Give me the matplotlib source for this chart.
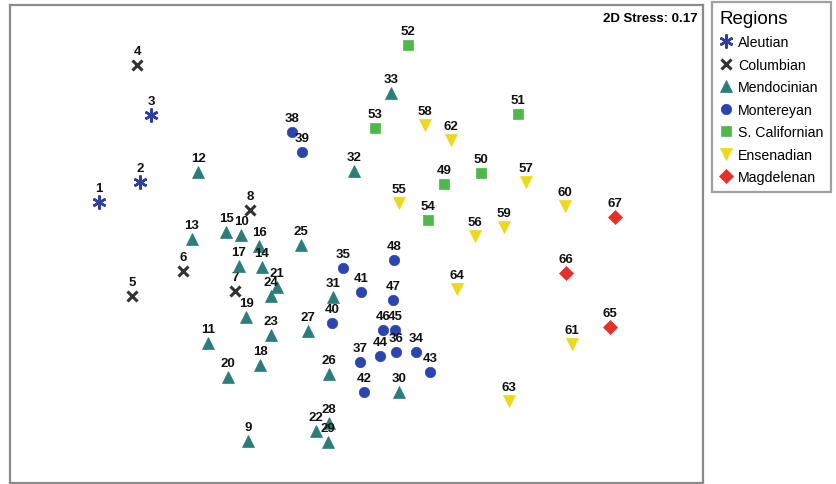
import numpy as np
import matplotlib
matplotlib.use("Agg")
import matplotlib.pyplot as plt
from matplotlib.lines import Line2D

plt.rcParams["font.family"] = ["Liberation Sans", "DejaVu Sans"]

# NMDS coordinates, one list per region
aleutian_id = [1, 2, 3]
aleutian_x = [-2.57, -2.16, -2.05]
aleutian_y = [0.42, 0.62, 1.29]

columbian_id = [4, 5, 6, 7, 8]
columbian_x = [-2.19, -2.24, -1.73, -1.21, -1.06]
columbian_y = [1.79, -0.52, -0.27, -0.47, 0.34]

mendocinian_id = list(range(9, 34))
mendocinian_x = [-1.08, -1.15, -1.48, -1.58, -1.64, -0.94, -1.30, -0.97, -1.17, -0.96,
                 -1.10, -1.28, -0.79, -0.40, -0.85, -0.85, -0.55, -0.27, -0.48, -0.27,
                 -0.28, 0.43, -0.23, -0.02, 0.35]
mendocinian_y = [-1.97, 0.09, -0.99, 0.72, 0.05, -0.23, 0.12, -0.02, -0.22, -1.21,
                 -0.73, -1.33, -0.43, -1.87, -0.91, -0.52, -0.01, -1.30, -0.87, -1.79,
                 -1.98, -1.48, -0.53, 0.73, 1.51]

montereyan_id = list(range(34, 49))
montereyan_x = [0.60, -0.13, 0.40, 0.04, -0.64, -0.54, -0.24, 0.05, 0.08, 0.74,
                0.24, 0.39, 0.27, 0.37, 0.38]
montereyan_y = [-1.08, -0.24, -1.08, -1.18, 1.12, 0.92, -0.79, -0.48, -1.48, -1.28,
                -1.12, -0.86, -0.86, -0.56, -0.16]

scal_id = [49, 50, 51, 52, 53, 54]
scal_x = [0.88, 1.25, 1.62, 0.52, 0.19, 0.72]
scal_y = [0.60, 0.71, 1.30, 1.99, 1.16, 0.24]

ensenadian_id = list(range(55, 65))
ensenadian_x = [0.43, 1.19, 1.70, 0.69, 1.48, 2.09, 2.16, 0.95, 1.53, 1.01]
ensenadian_y = [0.41, 0.08, 0.62, 1.19, 0.17, 0.38, -1.00, 1.04, -1.57, -0.45]

magdelenan_id = [65, 66, 67]
magdelenan_x = [2.54, 2.10, 2.59]
magdelenan_y = [-0.83, -0.29, 0.27]

stress = 0.17

regions = [
    ("Aleutian", aleutian_id, aleutian_x, aleutian_y, (6, 2, 0), "#2e3f9c", 10, 1.8),
    ("Columbian", columbian_id, columbian_x, columbian_y, "x", "#333333", 7, 2.2),
    ("Mendocinian", mendocinian_id, mendocinian_x, mendocinian_y, "^", "#2b7d7a", 8.5, 0),
    ("Montereyan", montereyan_id, montereyan_x, montereyan_y, "o", "#2b45b0", 7.5, 0),
    ("S. Californian", scal_id, scal_x, scal_y, "s", "#4fb848", 7.5, 0),
    ("Ensenadian", ensenadian_id, ensenadian_x, ensenadian_y, "v", "#ecd91c", 8.5, 0),
    ("Magdelenan", magdelenan_id, magdelenan_x, magdelenan_y, "D", "#e8302a", 7, 0),
]

fig = plt.figure(figsize=(8.36, 4.85), dpi=100)
ax = fig.add_axes([10 / 836, 1 / 485, 693 / 836, 478 / 485])
ax.set_xlim(-3.46, 3.47)
ax.set_ylim(-2.39, 2.39)
ax.set_xticks([])
ax.set_yticks([])
for s in ax.spines.values():
    s.set_color("#8a8a8a")
    s.set_linewidth(1.6)

handles = []
for name, ids, xs, ys, mk, col, ms, mew in regions:
    if mew:
        ax.plot(xs, ys, ls="none", marker=mk, color=col, ms=ms, mew=mew, zorder=3)
    else:
        ax.plot(xs, ys, ls="none", marker=mk, color=col, mec=col, ms=ms, mew=0.5, zorder=3)
    for i, x, y in zip(ids, xs, ys):
        ax.annotate(str(i), (x, y), xytext=(0, 5.5), textcoords="offset points",
                    ha="center", va="bottom", fontsize=9.5, fontweight="bold",
                    color="#111111", zorder=2 if i == 7 else 4)
    handles.append(Line2D([], [], ls="none", marker=mk, color=col, mec=col,
                          ms=ms, mew=mew if mew else 0.5, label=name))

ax.text(0.992, 0.985, f"2D Stress: {stress:.2f}", transform=ax.transAxes,
        ha="right", va="top", fontsize=9.5, fontweight="bold")

leg = fig.legend(handles=handles, title="Regions", loc="upper left",
                 bbox_to_anchor=(712 / 836, 1 - 3 / 485), fontsize=10.2,
                 title_fontsize=13.5, fancybox=False, edgecolor="#8a8a8a",
                 handlelength=0.9, handletextpad=0.4, labelspacing=0.6,
                 borderpad=0.55, borderaxespad=0)
leg.get_frame().set_linewidth(1.6)
leg._legend_box.align = "left"

fig.savefig("out.png", dpi=100)
